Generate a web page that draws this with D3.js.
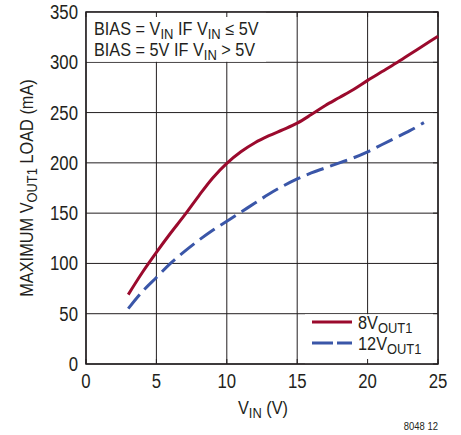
<!DOCTYPE html>
<html>
<head>
<meta charset="UTF-8">
<script src="https://d3js.org/d3.v7.min.js"></script>
<style>
  body { margin: 0; background: #fff; }
  text { font-family: "Liberation Sans", Arial, sans-serif; fill: #231f20; }
</style>
</head>
<body>
<svg width="461" height="435"></svg>
<script>
// data
var vin8 = [3, 4, 5, 6, 7, 8, 9, 10, 11, 12, 13, 14, 15, 16, 17, 18, 19, 20, 21, 22, 23, 24, 25];
var load8 = [69, 91, 111, 130, 148, 167, 185, 199.5, 211, 220, 227, 233, 239.5, 248, 257, 265, 273, 282, 290.5, 299, 308, 317, 326];
var vin12 = [3, 4, 5, 6, 7, 8, 9, 10, 11, 12, 13, 14, 15, 16, 17, 18, 19, 20, 21, 22, 23, 24];
var load12 = [55, 72, 86, 100, 112, 123, 133, 142, 151, 160, 169, 177, 184, 190, 195, 200, 205, 211, 218, 225, 232, 240];
var xTicks = [0, 5, 10, 15, 20, 25];
var yTicks = [0, 50, 100, 150, 200, 250, 300, 350];

var svg = d3.select("svg");
var pl = 86, pr = 438, pt = 12, pb = 364;
var SX = 0.86; // narrow face

var x = d3.scaleLinear().domain([0, 25]).range([pl, pr]);
var y = d3.scaleLinear().domain([0, 350]).range([pb, pt]);

// text with condensed look
function ntext(px, py, size, anchor, rot, sx) {
  var tr = "translate(" + px + "," + py + ")" + (rot ? " rotate(" + rot + ")" : "") + " scale(" + (sx || SX) + ",1)";
  return svg.append("text").attr("transform", tr)
    .attr("font-size", size + "px").attr("text-anchor", anchor || "start");
}
function addSub(t, main, s, subSize, after) {
  t.append("tspan").text(main);
  t.append("tspan").attr("font-size", subSize + "px").attr("dy", 4).text(s);
  if (after) t.append("tspan").attr("dy", -4).text(after);
}

var g = svg.append("g");

// grid
g.selectAll(".vg").data(xTicks).enter().append("line")
  .attr("x1", d => x(d)).attr("x2", d => x(d))
  .attr("y1", pt).attr("y2", pb)
  .attr("stroke", "#231f20").attr("stroke-width", 1);
g.selectAll(".hg").data(yTicks).enter().append("line")
  .attr("x1", pl).attr("x2", pr)
  .attr("y1", d => y(d)).attr("y2", d => y(d))
  .attr("stroke", "#231f20").attr("stroke-width", 1);

// white boxes for note and legend
function box(x0, y0, x1, y1) {
  g.append("rect").attr("x", x0).attr("y", y0)
    .attr("width", x1 - x0).attr("height", y1 - y0)
    .attr("fill", "#fff");
}
box(pl + 0.5, pt + 0.5, 266, y(300) - 0.5);
box(305, y(50) + 0.5, pr - 0.5, pb - 0.5);

// inner tick stubs along frame
g.selectAll(".tt").data(xTicks).enter().append("line")
  .attr("x1", d => x(d)).attr("x2", d => x(d))
  .attr("y1", pt).attr("y2", pt + 5)
  .attr("stroke", "#231f20");
g.selectAll(".bt").data(xTicks).enter().append("line")
  .attr("x1", d => x(d)).attr("x2", d => x(d))
  .attr("y1", pb).attr("y2", pb - 5)
  .attr("stroke", "#231f20");
g.selectAll(".rt").data(yTicks).enter().append("line")
  .attr("x1", pr).attr("x2", pr - 5)
  .attr("y1", d => y(d)).attr("y2", d => y(d))
  .attr("stroke", "#231f20");

// frame
g.append("rect").attr("x", pl).attr("y", pt)
  .attr("width", pr - pl).attr("height", pb - pt)
  .attr("fill", "none").attr("stroke", "#231f20").attr("stroke-width", 1.5);

// tick labels
xTicks.forEach(function (d) {
  ntext(x(d), pb + 24, 19.5, "middle").text(d);
});
yTicks.forEach(function (d) {
  ntext(pl - 8, y(d) + 7, 19.5, "end").text(d);
});

// curves
var line = d3.line().curve(d3.curveCatmullRom.alpha(0.5))
  .x(d => x(d[0])).y(d => y(d[1]));

svg.append("path")
  .datum(d3.zip(vin12, load12))
  .attr("d", line)
  .attr("fill", "none").attr("stroke", "#3a56a8")
  .attr("stroke-width", 3).attr("stroke-dasharray", "18,7");

svg.append("path")
  .datum(d3.zip(vin8, load8))
  .attr("d", line)
  .attr("fill", "none").attr("stroke", "#9b0a2d")
  .attr("stroke-width", 3);

// note text
var n1 = ntext(94, 35, 17.5, "start", 0, 0.93);
n1.append("tspan").text("BIAS = V");
n1.append("tspan").attr("font-size", "14px").attr("dy", 4).text("IN");
n1.append("tspan").attr("dy", -4).text(" IF V");
n1.append("tspan").attr("font-size", "14px").attr("dy", 4).text("IN");
n1.append("tspan").attr("dy", -4).text(" \u2264 5V");

var n2 = ntext(94, 56, 17.5, "start", 0, 0.93);
addSub(n2, "BIAS = 5V IF V", "IN", 14, " > 5V");

// legend
var leg = [
  {name: "8V", color: "#9b0a2d", dash: null, yy: 322},
  {name: "12V", color: "#3a56a8", dash: "21,4", yy: 343}
];
leg.forEach(function (d) {
  svg.append("line").attr("x1", 312).attr("x2", 352)
    .attr("y1", d.yy).attr("y2", d.yy)
    .attr("stroke", d.color).attr("stroke-width", 3)
    .attr("stroke-dasharray", d.dash);
  var t = ntext(358, d.yy + 7, 19);
  addSub(t, d.name, "OUT1", 15);
});

// axis titles
var xt = ntext(263, 414, 19, "middle");
addSub(xt, "V", "IN", 15, " (V)");

var yt = ntext(33, (pt + pb) / 2, 19, "middle", -90);
addSub(yt, "MAXIMUM V", "OUT1", 15, " LOAD (mA)");

ntext(438, 430, 11, "end").text("8048 12");
</script>
</body>
</html>
